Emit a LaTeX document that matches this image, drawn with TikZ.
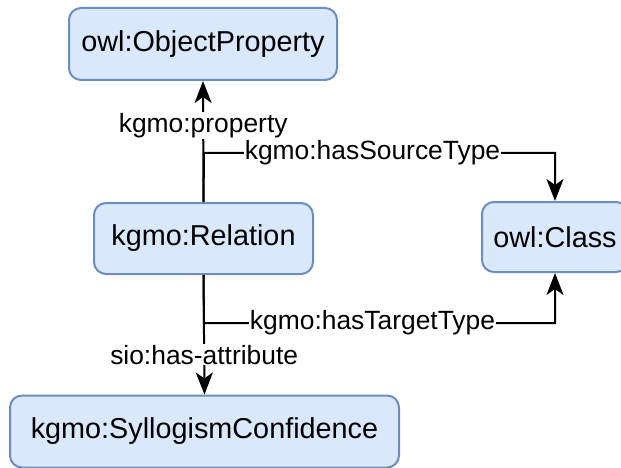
\documentclass[tikz,border=0pt]{standalone}
\usepackage{fontspec}
\setmainfont{Liberation Sans}
\usetikzlibrary{arrows.meta}
\definecolor{boxfill}{HTML}{DAE8FC}
\definecolor{boxdraw}{HTML}{6C8EBF}
\tikzset{
  cls/.style={draw=boxdraw, fill=boxfill, line width=2pt, rounded corners=12pt,
    minimum width=#1, minimum height=72pt, inner sep=0pt,
    font=\fontsize{28.8}{34}\selectfont},
  arr/.style={line width=2pt, -{Stealth[length=22pt,width=17pt,inset=6pt]}},
  lbl/.style={fill=white, inner sep=1pt, font=\fontsize{26.4}{31}\selectfont}
}
\begin{document}
\begin{tikzpicture}[x=1pt,y=-1pt]
\useasboundingbox (0,0) rectangle (621,468);
\node[cls=268pt] (op) at (203,44) {owl:ObjectProperty};
\node[cls=219pt, minimum height=71pt] (rel) at (203.5,238.5) {kgmo:Relation};
\node[cls=146pt, minimum height=70pt] (cl) at (555,237) {owl:Class};
\node[cls=389pt] (syl) at (204.5,431.5) {kgmo:SyllogismConfidence};
\coordinate (sj) at (204,153);
\coordinate (tj) at (204,323);
\draw[arr] (rel.north) -- (op.south) node[lbl, pos=0.63] {kgmo:property};
\draw[arr] (rel.north) -- (sj) -| node[lbl, pos=0.24] {kgmo:hasSourceType} (cl.north);
\draw[arr] (rel.south) -- (tj) -| node[lbl, pos=0.24] {kgmo:hasTargetType} (cl.south);
\draw[arr] (rel.south) -- (syl.north) node[lbl, pos=0.667] {sio:has-attribute};
\end{tikzpicture}
\end{document}
